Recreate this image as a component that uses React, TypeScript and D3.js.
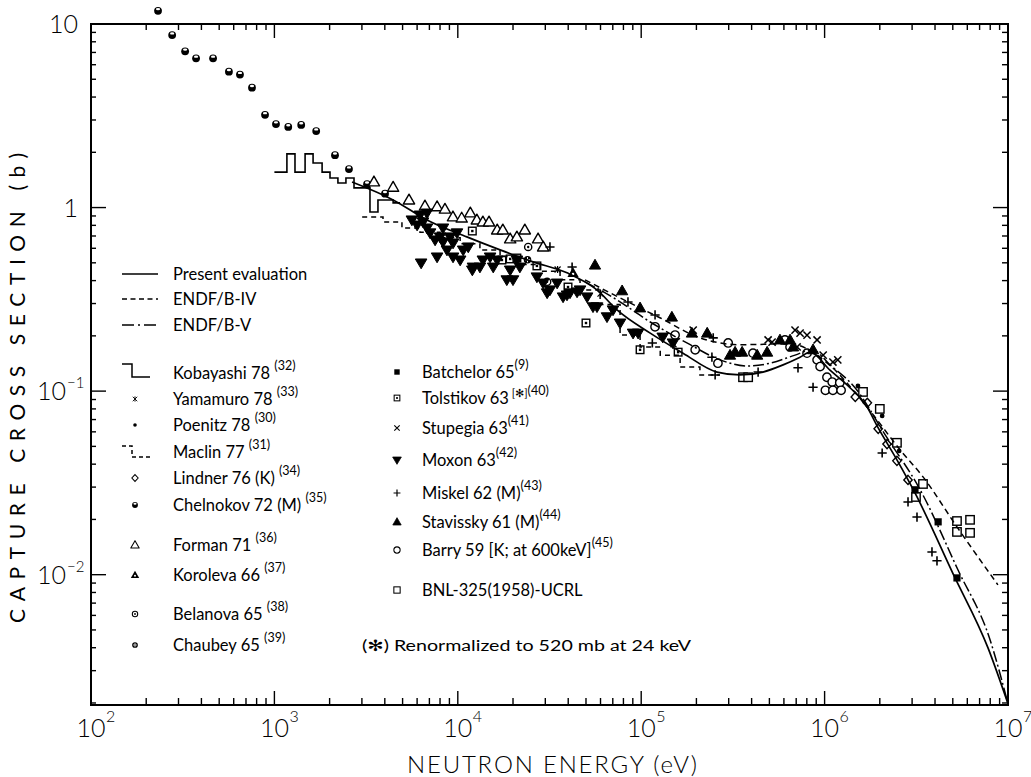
import React from "react";
import * as d3 from "d3";

type Pt = [number, number];

// ---- evaluated curves (energy in eV, cross section in barns) ----
const presentE = [2650, 4440, 6790, 11200, 17000, 25700, 39400, 57400, 73800, 112000, 169000, 259000, 346000, 461000, 594000, 735000, 834000, 1070000, 1380000, 1680000, 1960000, 2480000, 3110000, 5020000, 7780000, 10000000];
const presentS = [1.377, 1.1, 0.856, 0.692, 0.588, 0.506, 0.441, 0.356, 0.277, 0.207, 0.161, 0.127, 0.1225, 0.127, 0.139, 0.153, 0.163, 0.13, 0.104, 0.084, 0.063, 0.0422, 0.0279, 0.0101, 0.00399, 0.00198];

const endf4E = [49400, 76600, 126500, 209000, 346000, 648000, 1030000, 1700000, 2580000, 3440000, 5270000, 8810000];
const endf4S = [0.404, 0.322, 0.251, 0.195, 0.179, 0.181, 0.1425, 0.0821, 0.0479, 0.0341, 0.0182, 0.0088];

const endf5E = [49400, 73800, 112000, 185000, 269000, 378000, 505000, 690000, 855000, 1070000, 1470000, 2140000, 3320000, 5340000, 7980000, 10000000];
const endf5S = [0.394, 0.314, 0.238, 0.179, 0.148, 0.137, 0.142, 0.157, 0.168, 0.139, 0.104, 0.0577, 0.029, 0.0106, 0.00442, 0.00198];

// ---- histogram data (bin edges / bin values) ----
const kobayashiEdges = [1000, 1170, 1295, 1470, 1625, 1820, 2010, 2220, 2455, 2717, 3320, 3670, 4440, 4845];
const kobayashiValues = [1.56, 1.96, 1.56, 1.96, 1.75, 1.56, 1.45, 1.36, 1.45, 1.28, 0.946, 1.1, 1.06];

const maclinEdges = [3010, 3910, 4960, 6220, 8000, 10300, 13200, 17000, 21800, 28100, 36100, 46400, 59700, 76700, 98600, 127000, 163000, 209000, 269000];
const maclinValues = [0.889, 0.835, 0.774, 0.733, 0.684, 0.636, 0.588, 0.541, 0.49, 0.45, 0.404, 0.356, 0.296, 0.202, 0.174, 0.157, 0.1355, 0.1225];

// ---- measured points ----
const chelnokov72: Pt[] = [[232, 11.8], [277, 8.7], [326, 7.1], [374, 6.5], [463, 6.5], [565, 5.5], [649, 5.3], [755, 4.5], [889, 3.2], [1020, 2.85], [1190, 2.75], [1400, 2.82], [1690, 2.61], [2140, 1.93], [2550, 1.62], [3200, 1.34], [4010, 1.19]];
const forman71: Pt[] = [[3490, 1.38], [4440, 1.29], [5420, 1.1], [6620, 1.02], [7710, 1.01], [8510, 0.98], [9410, 0.89], [10500, 0.877], [11700, 0.935], [12700, 0.856], [13700, 0.835], [14800, 0.835], [16400, 0.755], [17600, 0.755], [19300, 0.675], [21000, 0.692], [23200, 0.755], [27400, 0.675], [29200, 0.61]];
const moxon63: Pt[] = [[5620, 0.856], [6000, 0.803], [6220, 0.911], [6460, 0.835], [6790, 0.774], [7060, 0.728], [7520, 0.666], [8000, 0.692], [8300, 0.65], [9070, 0.692], [9420, 0.641], [9900, 0.728], [6310, 0.499], [7710, 0.538], [8730, 0.587], [10700, 0.587], [11400, 0.61], [12100, 0.474], [13200, 0.474], [13700, 0.518], [15000, 0.538], [16400, 0.518], [18500, 0.404], [20000, 0.404], [19300, 0.457], [21000, 0.518], [27000, 0.419], [29200, 0.388], [31800, 0.356], [34800, 0.388], [37500, 0.326], [40900, 0.343], [46400, 0.356], [50700, 0.326], [54600, 0.288], [57400, 0.288], [65100, 0.254], [70200, 0.277], [76700, 0.235], [90300, 0.207], [96200, 0.207], [131000, 0.197], [149000, 0.183], [9420, 0.538], [10300, 0.518], [12000, 0.457], [15600, 0.474], [21800, 0.474], [30700, 0.343], [39400, 0.334], [44700, 0.347], [6790, 0.934], [8300, 0.774]];
const tolstikov63: Pt[] = [[12000, 0.745], [17400, 0.518], [19300, 0.525], [21000, 0.531], [27000, 0.481], [39900, 0.369], [50000, 0.235], [98600, 0.168], [159000, 0.163]];
const stavissky61: Pt[] = [[56000, 0.486], [78700, 0.352], [98600, 0.284], [147000, 0.253], [189000, 0.207], [229000, 0.207], [305000, 0.157], [325000, 0.163], [355000, 0.163], [429000, 0.157], [486000, 0.163], [571000, 0.19], [648000, 0.19], [673000, 0.174], [865000, 0.168]];
const stupegia63: Pt[] = [[192000, 0.215], [492000, 0.19], [517000, 0.185], [690000, 0.215], [708000, 0.174], [735000, 0.207], [802000, 0.202], [910000, 0.19], [982000, 0.157], [1110000, 0.144], [1180000, 0.148]];
const miskel62: Pt[] = [[31800, 0.61], [42000, 0.474], [84700, 0.306], [119000, 0.26], [115000, 0.183], [243000, 0.153], [247000, 0.195], [253000, 0.1225], [434000, 0.127], [716000, 0.134], [865000, 0.105], [2060000, 0.046], [2850000, 0.0249], [3190000, 0.0206], [3850000, 0.0133], [4100000, 0.0119]];
const barry59: Pt[] = [[119000, 0.224], [153000, 0.202], [197000, 0.168], [262000, 0.142], [298000, 0.183], [407000, 0.161], [608000, 0.19], [648000, 0.174], [802000, 0.161], [910000, 0.148], [945000, 0.136], [1030000, 0.119], [1100000, 0.112], [1210000, 0.111], [1010000, 0.101], [1110000, 0.101], [1230000, 0.101]];
const lindner76: Pt[] = [[1470000, 0.093], [1710000, 0.0863], [1960000, 0.0623], [2190000, 0.0515], [2480000, 0.0417], [2850000, 0.0328]];
const bnl325: Pt[] = [[1620000, 0.099], [2000000, 0.08], [2480000, 0.0523], [3440000, 0.0312], [3150000, 0.0265], [5270000, 0.0196], [6210000, 0.0199], [5270000, 0.0171], [6210000, 0.0169], [359000, 0.119], [383000, 0.119]];
const batchelor65: Pt[] = [[3110000, 0.029], [4160000, 0.0194], [5270000, 0.0096]];
const poenitz78: Pt[] = [[1520000, 0.1066], [2060000, 0.0733], [2550000, 0.0472]];
const yamamuro78: Pt[] = [[35000, 0.46], [60000, 0.34], [150000, 0.18]];
const koroleva66: Pt[] = [[42500, 0.44]];
const belanova65: Pt[] = [[24200, 0.61], [30700, 0.394]];
const chaubey65: Pt[] = [[24000, 0.52]];

// ---- axis labels ----
const xTickExponents = ["2", "3", "4", "5", "6", "7"];
const yTickBases = ["10", "1", "10", "10"];
const yTickExponents = ["", "", "\u22121", "\u22122"];
const yTickValues = [10, 1, 0.1, 0.01];

// ---- legend text ----
const curveLegend = ["Present evaluation", "ENDF/B-IV", "ENDF/B-V"];
const leftLegendNames = ["Kobayashi 78", "Yamamuro 78", "Poenitz 78", "Maclin 77", "Lindner 76 (K)", "Chelnokov 72 (M)", "Forman 71", "Koroleva 66", "Belanova 65", "Chaubey 65"];
const leftLegendRefs = ["(32)", "(33)", "(30)", "(31)", "(34)", "(35)", "(36)", "(37)", "(38)", "(39)"];
const rightLegendNames = ["Batchelor 65", "Tolstikov 63", "Stupegia 63", "Moxon 63", "Miskel 62 (M)", "Stavissky 61 (M)", "Barry 59 [K; at 600keV]", "BNL-325(1958)-UCRL"];
const rightLegendRefs = ["(9)", "(40)", "(41)", "(42)", "(43)", "(44)", "(45)", ""];
const footnote = "(\u273B) Renormalized to 520 mb at 24 keV";

const FONT = "Lato, 'DejaVu Sans', sans-serif";

const x = d3.scaleLog().domain([1e2, 1e7]).range([91, 1008]);
const y = d3.scaleLog().domain([1.95e-3, 10]).range([705, 24]);

const smooth = (E: number[], S: number[]) =>
  d3.line<number>().x((_, i) => x(E[i])).y((_, i) => y(S[i])).curve(d3.curveMonotoneX)(E.map((_, i) => i)) || "";

const steps = (edges: number[], vals: number[]) => {
  const pts: Pt[] = edges.map((e, i) => [e, vals[Math.min(i, vals.length - 1)]]);
  return d3.line<Pt>().x(d => x(d[0])).y(d => y(d[1])).curve(d3.curveStepAfter)(pts) || "";
};

type MType = "halfdisc" | "triOpen" | "triFilled" | "triDot" | "triDown" | "circle" | "dotCircle" | "crossCircle" | "square" | "dotSquare" | "squareFilled" | "x" | "plus" | "diamond" | "dot" | "star";

function Marker({ t, cx, cy, s = 1 }: { t: MType; cx: number; cy: number; s?: number }) {
  const sw = 1.4;
  const tr = `translate(${cx},${cy}) scale(${s})`;
  switch (t) {
    case "halfdisc":
      return (<g transform={tr}><circle r={3.9} fill="#000" /><ellipse cy={-1.7} rx={2.1} ry={1.2} fill="#fff" /></g>);
    case "triOpen":
      return <path transform={tr} d="M0,-5.8L5.6,4L-5.6,4Z" fill="#fff" stroke="#000" strokeWidth={sw} strokeLinejoin="round" />;
    case "triFilled":
      return <path transform={tr} d="M0,-5.8L5.6,4L-5.6,4Z" fill="#000" stroke="#000" strokeWidth={1} />;
    case "triDot":
      return (<g transform={tr}><path d="M0,-5.8L5.6,4L-5.6,4Z" fill="#000" /><circle cy={1} r={1.3} fill="#fff" /></g>);
    case "triDown":
      return <path transform={tr} d="M-5.8,-4L5.8,-4L0,5.8Z" fill="#000" stroke="#000" strokeWidth={1} />;
    case "circle":
      return <circle transform={tr} r={4.2} fill="#fff" stroke="#000" strokeWidth={sw} />;
    case "dotCircle":
      return (<g transform={tr}><circle r={3.6} fill="#fff" stroke="#000" strokeWidth={sw} /><circle r={1.2} fill="#000" /></g>);
    case "crossCircle":
      return (<g transform={tr}><circle r={3.8} fill="#000" /><path d="M-2.6,0H2.6M0,-2.6V2.6" stroke="#fff" strokeWidth={1} /></g>);
    case "square":
      return <rect transform={tr} x={-4.2} y={-4.2} width={8.4} height={8.4} fill="#fff" stroke="#000" strokeWidth={sw} />;
    case "dotSquare":
      return (<g transform={tr}><rect x={-3.8} y={-3.8} width={7.6} height={7.6} fill="#fff" stroke="#000" strokeWidth={sw} /><rect x={-1.2} y={-1.2} width={2.4} height={2.4} fill="#000" /></g>);
    case "squareFilled":
      return <rect transform={tr} x={-3.6} y={-3.6} width={7.2} height={7.2} fill="#000" />;
    case "x":
      return <path transform={tr} d="M-3.6,-3.6L3.6,3.6M-3.6,3.6L3.6,-3.6" stroke="#000" strokeWidth={1.5} />;
    case "plus":
      return <path transform={tr} d="M-4.6,0H4.6M0,-4.6V4.6" stroke="#000" strokeWidth={1.6} />;
    case "diamond":
      return <path transform={tr} d="M0,-4.6L4.2,0L0,4.6L-4.2,0Z" fill="#fff" stroke="#000" strokeWidth={sw} />;
    case "dot":
      return <circle transform={tr} r={2.4} fill="#000" />;
    case "star":
      return <path transform={tr} d="M-3,-3L3,3M-3,3L3,-3M0,-3.5V3.5" stroke="#000" strokeWidth={1.2} />;
  }
  return null;
}

const pointSeries: { data: Pt[]; t: MType }[] = [
  { data: chelnokov72, t: "halfdisc" },
  { data: forman71, t: "triOpen" },
  { data: barry59, t: "circle" },
  { data: lindner76, t: "diamond" },
  { data: bnl325, t: "square" },
  { data: tolstikov63, t: "dotSquare" },
  { data: belanova65, t: "dotCircle" },
  { data: moxon63, t: "triDown" },
  { data: stavissky61, t: "triFilled" },
  { data: koroleva66, t: "triDot" },
  { data: chaubey65, t: "crossCircle" },
  { data: stupegia63, t: "x" },
  { data: miskel62, t: "plus" },
  { data: batchelor65, t: "squareFilled" },
  { data: poenitz78, t: "dot" },
  { data: yamamuro78, t: "star" },
];

const leftSymbols: MType[] = ["triOpen", "star", "dot", "triOpen", "diamond", "halfdisc", "triOpen", "triDot", "dotCircle", "crossCircle"];
const leftRowY = [373, 399, 425, 452, 478, 505, 545, 575, 614, 645];
const rightSymbols: MType[] = ["squareFilled", "dotSquare", "x", "triDown", "plus", "triFilled", "circle", "square"];
const rightRowY = [372, 398, 428, 460, 493, 522, 550, 590];
const curveRowY = [274, 299, 325];

export default function App() {
  const X0 = 91, X1 = 1008, Y0 = 24, Y1 = 705;

  const xTicks: { v: number; major: boolean }[] = [];
  for (let n = 2; n <= 7; n++) for (let k = 1; k <= 9; k++) {
    const v = k * Math.pow(10, n);
    if (v <= 1e7 * 1.0001) xTicks.push({ v, major: k === 1 });
  }
  const yTicks: { v: number; major: boolean }[] = [];
  for (let n = -3; n <= 1; n++) for (let k = 1; k <= 9; k++) {
    const v = k * Math.pow(10, n);
    if (v >= 1.95e-3 && v <= 10.0001) yTicks.push({ v, major: k === 1 });
  }

  const lineStyle = { fill: "none", stroke: "#000", strokeWidth: 1.5 };

  return (
    <svg width={1031} height={777} style={{ position: "absolute", left: 0, top: 0, background: "#fff" }} fontFamily={FONT}>
      <rect width={1031} height={777} fill="#fff" />

      {/* data markers */}
      {pointSeries.map((s, si) =>
        s.data.map((d, i) => <Marker key={`${si}-${i}`} t={s.t} cx={x(d[0])} cy={y(d[1])} />)
      )}

      {/* histograms */}
      <path d={steps(kobayashiEdges, kobayashiValues)} {...lineStyle} strokeWidth={1.6} />
      <path d={steps(maclinEdges, maclinValues)} {...lineStyle} strokeDasharray="5,4" />

      {/* evaluations */}
      <path d={smooth(presentE, presentS)} {...lineStyle} strokeWidth={1.7} />
      <path d={smooth(endf4E, endf4S)} {...lineStyle} strokeDasharray="6,4" />
      <path d={smooth(endf5E, endf5S)} {...lineStyle} strokeDasharray="11,3,2,3" />

      {/* frame */}
      <rect x={X0} y={Y0} width={X1 - X0} height={Y1 - Y0} fill="none" stroke="#000" strokeWidth={2} />
      {xTicks.map((t, i) => (
        <g key={`xt${i}`} stroke="#000" strokeWidth={1.4}>
          <line x1={x(t.v)} x2={x(t.v)} y1={Y1} y2={Y1 - (t.major ? 14 : 7)} />
          <line x1={x(t.v)} x2={x(t.v)} y1={Y0} y2={Y0 + (t.major ? 14 : 6)} />
        </g>
      ))}
      {yTicks.map((t, i) => (
        <g key={`yt${i}`} stroke="#000" strokeWidth={1.4}>
          <line x1={X0} x2={X0 + (t.major ? 15 : 5)} y1={y(t.v)} y2={y(t.v)} />
          <line x1={X1} x2={X1 - (t.major ? 15 : 6)} y1={y(t.v)} y2={y(t.v)} />
        </g>
      ))}

      {/* x tick labels */}
      {xTickExponents.map((e, i) => {
        const px = x(Math.pow(10, +e));
        return (
          <g key={`xl${i}`} fill="#000">
            <text x={px} y={737} textAnchor="middle" fontSize={25} fontWeight={300}>10</text>
            <text x={px + 15} y={722} fontSize={16} fontWeight={300}>{e}</text>
          </g>
        );
      })}

      {/* y tick labels */}
      {yTickValues.map((v, i) => {
        const py = y(v);
        const hasExp = !!yTickExponents[i];
        return (
          <g key={`yl${i}`} fill="#000">
            <text x={hasExp ? 66 : 78} y={py + 9} textAnchor="end" fontSize={25} fontWeight={300}>{yTickBases[i]}</text>
            {hasExp && <text x={67} y={py - 3} fontSize={15} fontWeight={300}>{yTickExponents[i]}</text>}
          </g>
        );
      })}

      {/* axis titles */}
      <text x={552} y={773} textAnchor="middle" fontSize={24} fontWeight={300} textLength={290} lengthAdjust="spacing">NEUTRON ENERGY (eV)</text>
      <text transform="translate(25,388) rotate(-90)" textAnchor="middle" fontSize={21} fontWeight={400} textLength={470} lengthAdjust="spacing">CAPTURE CROSS SECTION (b)</text>

      {/* curve legend */}
      <g fontSize={16.5}>
        <line x1={122} x2={158} y1={curveRowY[0]} y2={curveRowY[0]} {...lineStyle} />
        <line x1={122} x2={158} y1={curveRowY[1]} y2={curveRowY[1]} {...lineStyle} strokeDasharray="5,3.5" />
        <line x1={122} x2={158} y1={curveRowY[2]} y2={curveRowY[2]} {...lineStyle} strokeDasharray="12,4,2,4" />
        {curveLegend.map((c, i) => (
          <text key={c} x={173} y={curveRowY[i] + 6}>{c}</text>
        ))}
      </g>

      {/* left legend column */}
      <g fontSize={16.5}>
        {leftLegendNames.map((n, i) => {
          const ry = leftRowY[i];
          let sym: React.ReactNode;
          if (i === 0) sym = <path d={`M122,${ry - 9}H132V${ry + 4}H150`} {...lineStyle} />;
          else if (i === 3) sym = <path d={`M122,${ry - 6}H132V${ry + 5}H150`} {...lineStyle} strokeDasharray="4,3" />;
          else sym = <Marker t={leftSymbols[i]} cx={135} cy={ry} s={0.75} />;
          return (
            <g key={n}>
              {sym}
              <text x={173} y={ry + 6}>{n} <tspan fontSize={12.5} dy={-9}>{leftLegendRefs[i]}</tspan></text>
            </g>
          );
        })}
      </g>

      {/* right legend column */}
      <g fontSize={16.5}>
        {rightLegendNames.map((n, i) => {
          const ry = rightRowY[i];
          return (
            <g key={n}>
              <Marker t={rightSymbols[i]} cx={397} cy={ry} s={0.75} />
              <text x={422} y={ry + 6}>
                {n}
                {i === 1 && <tspan fontSize={11} dy={-7}> [{"\u273B"}]</tspan>}
                {rightLegendRefs[i] && <tspan fontSize={12.5} dy={i === 1 ? -2 : -9}>{rightLegendRefs[i]}</tspan>}
              </text>
            </g>
          );
        })}
      </g>

      <text x={362} y={651} fontSize={15.5} textLength={329} lengthAdjust="spacingAndGlyphs">{footnote}</text>
    </svg>
  );
}
